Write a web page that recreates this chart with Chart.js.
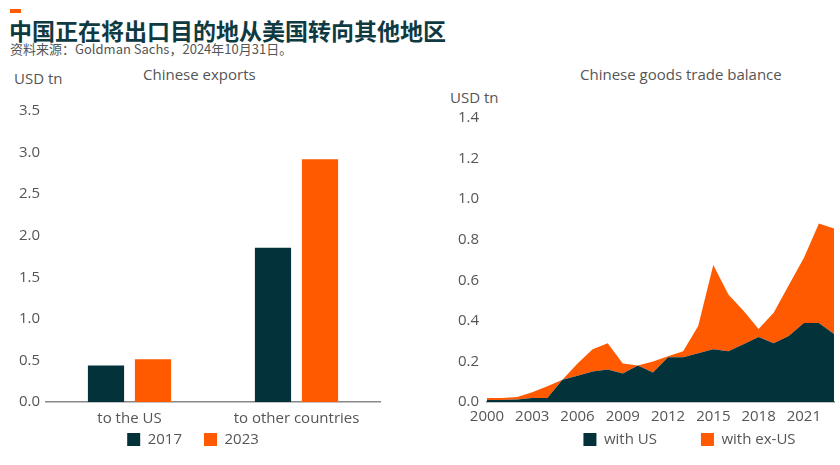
<!DOCTYPE html>
<html>
<head>
<meta charset="utf-8">
<script src="https://cdn.jsdelivr.net/npm/chart.js@4.4.1/dist/chart.umd.min.js"></script>
<style>
  body { margin: 0; width: 840px; height: 465px; background: #fff; position: relative; overflow: hidden; font-family: 'Open Sans', sans-serif; }
  .mark { position: absolute; left: 10px; top: 9px; width: 11px; height: 4px; background: #ff5a00; }
  .title { position: absolute; left: 9px; top: 13px; font-family: 'Noto Sans CJK SC'; font-weight: 700; font-size: 23px; color: #0f3a42; white-space: nowrap; }
  .source { position: absolute; left: 10px; top: 39px; font-family: 'Noto Sans CJK SC', 'Open Sans'; font-size: 13px; color: #555; white-space: nowrap; }
  .lbl { position: absolute; font-size: 15px; color: #555; white-space: nowrap; }
  .box { position: absolute; top: 0; height: 465px; }
</style>
</head>
<body>
<div class="mark"></div>
<div class="title">中国正在将出口目的地从美国转向其他地区</div>
<div class="source">资料来源：Goldman Sachs，2024年10月31日。</div>
<div class="lbl" style="left:14px;top:68px;">USD tn</div>
<div class="lbl" style="left:143px;top:64px;">Chinese exports</div>
<div class="lbl" style="left:450px;top:87px;">USD tn</div>
<div class="lbl" style="left:580px;top:64px;">Chinese goods trade balance</div>
<div class="box" style="left:0;width:420px;"><canvas id="exportsChart"></canvas></div>
<div class="box" style="left:430px;width:410px;"><canvas id="balanceChart"></canvas></div>
<script>
const DARK = '#03323a';
const ORANGE = '#ff5a00';

// left chart
const exportCats = ['to the US', 'to other countries'];
const exports2017 = [0.44, 1.855];
const exports2023 = [0.515, 2.92];
const exportTicks = [0, 0.5, 1, 1.5, 2, 2.5, 3, 3.5];

// right chart
const years = [2000, 2001, 2002, 2003, 2004, 2005, 2006, 2007, 2008, 2009, 2010, 2011,
  2012, 2013, 2014, 2015, 2016, 2017, 2018, 2019, 2020, 2021, 2022, 2023];
const withUs = [0.01, 0.01, 0.012, 0.02, 0.02, 0.11, 0.13, 0.15, 0.16, 0.14, 0.18, 0.145,
  0.22, 0.22, 0.24, 0.26, 0.25, 0.285, 0.32, 0.29, 0.325, 0.39, 0.39, 0.335];
const withExUs = [0.01, 0.01, 0.013, 0.028, 0.058, 0.0, 0.06, 0.11, 0.13, 0.05, 0.0, 0.055,
  0.005, 0.03, 0.135, 0.415, 0.28, 0.165, 0.04, 0.15, 0.25, 0.32, 0.49, 0.52];
const yearTicks = ['2000', '2003', '2006', '2009', '2012', '2015', '2018', '2021'];

const tickFont = { family: 'Open Sans', size: 15 };

function legendLabels(pad) {
  return {
    font: { family: 'Open Sans', size: 15 },
    color: '#555',
    boxWidth: 13,
    boxHeight: 13,
    padding: pad
  };
}

// nudge the legend box after layout so it sits where the reference has it
const legendShift = {
  id: 'legendShift',
  afterLayout(chart, args, opts) {
    const lg = chart.legend;
    if (!lg) return;
    const dx = opts.dx || 0, dy = opts.dy || 0;
    lg.left += dx; lg.right += dx;
    lg.top += dy; lg.bottom += dy;
  }
};

new Chart(document.getElementById('exportsChart'), {
  type: 'bar',
  data: {
    labels: exportCats,
    datasets: [
      { label: '2017', data: exports2017, backgroundColor: DARK },
      { label: '2023', data: exports2023, backgroundColor: ORANGE }
    ]
  },
  plugins: [legendShift],
  options: {
    responsive: true,
    maintainAspectRatio: false,
    animation: false,
    categoryPercentage: 0.563,
    barPercentage: 0.77,
    layout: { padding: { left: 0, right: 40, top: 111, bottom: -14 } },
    plugins: {
      legend: { position: 'bottom', labels: legendLabels(22) },
      legendShift: { dx: 3, dy: -22 },
      tooltip: { enabled: false }
    },
    scales: {
      x: {
        grid: { display: false, drawTicks: false },
        border: { color: '#888', width: 1.5 },
        ticks: { font: tickFont, color: '#555', padding: 8 },
        afterFit: s => { s.height = 30; }
      },
      y: {
        min: 0,
        max: 3.5,
        grid: { display: false, drawTicks: false },
        border: { display: false },
        afterBuildTicks: s => { s.ticks = exportTicks.map(v => ({ value: v })); },
        ticks: { font: tickFont, color: '#555', padding: 6, callback: v => v.toFixed(1) },
        afterFit: s => { s.width = 46; }
      }
    }
  }
});

new Chart(document.getElementById('balanceChart'), {
  type: 'line',
  data: {
    labels: years.map(String),
    datasets: [
      { label: 'with US', data: withUs, backgroundColor: DARK, borderColor: DARK, borderWidth: 0, fill: 'origin', pointRadius: 0, tension: 0 },
      { label: 'with ex-US', data: withExUs, backgroundColor: ORANGE, borderColor: ORANGE, borderWidth: 0, fill: '-1', pointRadius: 0, tension: 0 }
    ]
  },
  plugins: [legendShift],
  options: {
    responsive: true,
    maintainAspectRatio: false,
    animation: false,
    layout: { padding: { left: 0, right: 5, top: 118, bottom: -36 } },
    plugins: {
      legend: { position: 'bottom', labels: legendLabels(44) },
      legendShift: { dx: 57, dy: -44 },
      tooltip: { enabled: false }
    },
    scales: {
      x: {
        offset: false,
        grid: { display: false, drawTicks: false },
        border: { color: '#888', width: 1.5 },
        ticks: {
          font: tickFont, color: '#555', padding: 6, autoSkip: false, maxRotation: 0,
          callback: function (v) {
            const l = this.getLabelForValue(v);
            return yearTicks.includes(l) ? l : '';
          }
        },
        afterFit: s => { s.height = 30; }
      },
      y: {
        stacked: true,
        min: 0,
        max: 1.4,
        grid: { display: false, drawTicks: false },
        border: { display: false },
        ticks: { font: tickFont, color: '#555', padding: 8, stepSize: 0.2, callback: v => v.toFixed(1) },
        afterFit: s => { s.width = 57; }
      }
    }
  }
});
</script>
</body>
</html>
